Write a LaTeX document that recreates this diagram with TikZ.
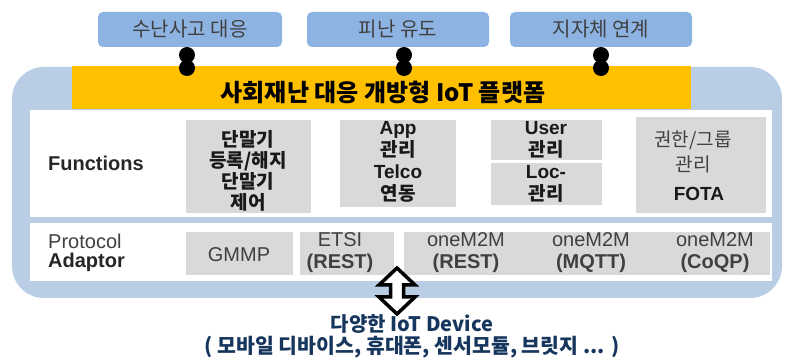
\documentclass[tikz,border=0pt]{standalone}
\usepackage{fontspec}
\setmainfont{Liberation Sans}
\newfontfamily\kr{Noto Sans CJK KR}
\definecolor{topblue}{HTML}{8DB3E2}
\definecolor{bgblue}{HTML}{B9CDE5}
\definecolor{ylw}{HTML}{FFC000}
\definecolor{gry}{HTML}{D9D9D9}
\definecolor{navy}{HTML}{17365D}
\definecolor{dtext}{HTML}{404040}
\begin{document}
\begin{tikzpicture}[x=1pt,y=-1pt,
  topbox/.style={fill=topblue, rounded corners=5pt, inner sep=0pt, minimum width=182pt, minimum height=35pt, font=\kr\fontsize{20}{22}\selectfont, text=dtext},
  graybox/.style={fill=gry, inner sep=0pt},
  lbl/.style={inner sep=0pt, align=center},
  fbold/.style={lbl, font=\kr\bfseries\fontsize{19}{21}\selectfont, text=black!90},
  ptext/.style={lbl, font=\fontsize{20}{22}\selectfont, text=dtext},
  dotnode/.style={circle, fill=black, inner sep=0pt, minimum size=16pt},
]
\useasboundingbox (0,0) rectangle (788,363);
\fill[white] (0,0) rectangle (788,363);
% background panel
\fill[bgblue] (12,67) [rounded corners=32pt] rectangle (782,298);
\fill[white] (30,110) rectangle (772,217);
\fill[white] (30,223) rectangle (772,281);
% title bar
\node[fill=ylw, inner sep=0pt, minimum width=619pt, minimum height=43pt] (bar) at (381.5,87.5) {};
\node[lbl, font=\kr\bfseries\fontsize{24}{26}\selectfont] (title) at (383,92) {사회재난 대응 개방형 IoT 플랫폼};
% top boxes
\node[topbox, minimum width=184pt] (t1) at (190,29.5) {수난사고 대응};
\node[topbox] (t2) at (398,29.5) {피난 유도};
\node[topbox] (t3) at (601,29.5) {지자체 연계};
% connector dots
\node[dotnode] (d1a) at (187,55) {};
\node[dotnode] (d1b) at (187,68) {};
\node[dotnode] (d2a) at (404,55) {};
\node[dotnode] (d2b) at (404,68) {};
\node[dotnode] (d3a) at (601,55) {};
\node[dotnode] (d3b) at (601,68) {};
% function boxes
\node[graybox, minimum width=125pt, minimum height=93pt] (f1) at (248.5,166.5) {};
\node[graybox, minimum width=116pt, minimum height=87pt] (f2) at (398,163.5) {};
\node[graybox, minimum width=111pt, minimum height=40pt] (f3a) at (546.5,140) {};
\node[graybox, minimum width=111pt, minimum height=42pt] (f3b) at (546.5,184) {};
\node[graybox, minimum width=130pt, minimum height=96pt] (f4) at (701,165) {};
\node[lbl, anchor=west, font=\bfseries\fontsize{20}{22}\selectfont, text=black!85] (flabel) at (48,163) {Functions};
\node[fbold] (f1t) at (248,171) {단말기\\등록/해지\\단말기\\제어};
\node[fbold, font=\bfseries\fontsize{19}{22}\selectfont] (f2t) at (398,162) {App\\{\kr 관리}\\Telco\\{\kr 연동}};
\node[fbold, font=\bfseries\fontsize{19}{22}\selectfont] (f3t) at (546,162) {User\\{\kr 관리}\\Loc-\\{\kr 관리}};
\node[lbl, font=\kr\fontsize{19}{25}\selectfont, text=dtext] (f4t) at (693,152) {권한/그룹\\관리};
\node[lbl, font=\bfseries\fontsize{19}{21}\selectfont, text=black!90] (f4f) at (699,194) {FOTA};
% protocol row
\node[graybox, minimum width=107pt, minimum height=43pt] (p1) at (239.5,253.5) {};
\node[graybox, minimum width=94pt, minimum height=43pt] (p2) at (347,253.5) {};
\node[graybox, minimum width=366pt, minimum height=43pt] (p3) at (587,253.5) {};
\node[ptext, anchor=west, align=left, font=\fontsize{20}{19}\selectfont] (plabel) at (48,252.5) {Protocol\\\textbf{\color{black!85}Adaptor}};
\node[ptext] (p1t) at (239,255) {GMMP};
\node[ptext] (p2t) at (340,253) {ETSI\\\textbf{(REST)}};
\node[ptext] (p3t) at (466,253) {oneM2M\\\textbf{(REST)}};
\node[ptext] (p4t) at (591,253) {oneM2M\\\textbf{(MQTT)}};
\node[ptext] (p5t) at (715,253) {oneM2M\\\textbf{(CoQP)}};
% bottom text
\node[lbl, font=\kr\bfseries\fontsize{20}{22}\selectfont, text=navy] (dev1) at (412,324) {다양한 IoT Device};
\node[lbl, font=\kr\bfseries\fontsize{20.5}{22}\selectfont, text=navy] (dev2) at (412,347) {( 모바일 디바이스, 휴대폰, 센서모듈, 브릿지 ... )};
% double arrow
\coordinate (atop) at (397,268);
\coordinate (abot) at (397,314);
\draw[line width=3.5pt, fill=white, line join=miter] (atop) -- ++(18,17) -- ++(-11.5,0) -- ++(0,12) -- ++(11.5,0) -- (abot) -- ++(-18,-17) -- ++(11.5,0) -- ++(0,-12) -- ++(-11.5,0) -- cycle;
\end{tikzpicture}
\end{document}
